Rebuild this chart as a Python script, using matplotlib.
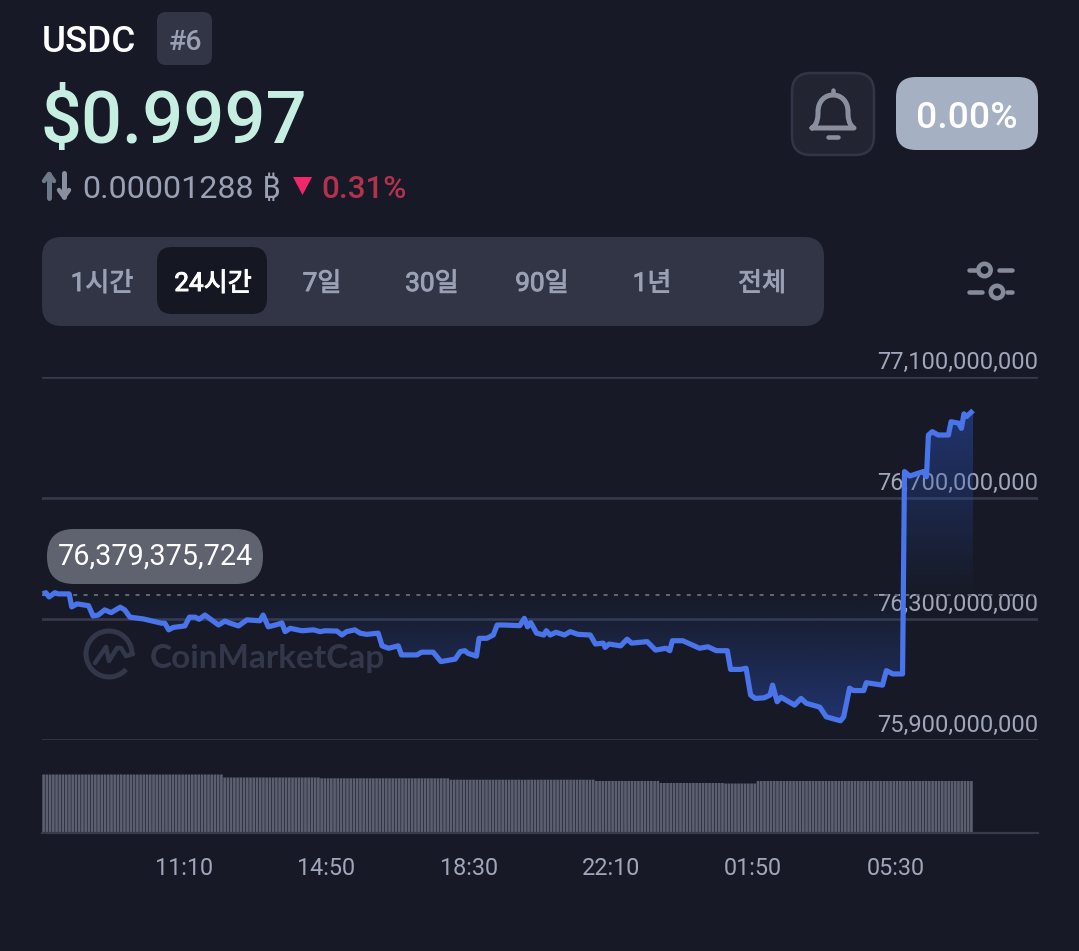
import numpy as np
import matplotlib
matplotlib.use("Agg")
import matplotlib.pyplot as plt
import matplotlib.patheffects as pe
from matplotlib.patches import FancyBboxPatch, Polygon, Circle, Arc, PathPatch
from matplotlib.path import Path
from matplotlib.transforms import ScaledTranslation

# ---------- data ----------
minutes = [1,6,11,20,25,42,46,54,72,79,87,97,107,121,128,136,157,185,190,196,203,221,228,237,243,252,273,283,291,304,
           317,337,342,350,366,371,376,384,402,420,430,438,456,464,471,484,492,502,520,526,536,551,556,580,587,605,617,639,647,654,
           659,672,676,688,698,704,714,739,746,751,756,765,776,780,786,795,808,817,829,848,856,868,871,877,895,905,912,936,949,965,
           971,975,991,1017,1030,1043,1060,1065,1080,1089,1096,1103,1117,1126,1130,1137,1143,1164,1174,1182,1203,1213,1235,1240,1249,1255,1271,1275,1300,1306,
           1316,1331,1334,1342,1363,1368,1371,1377,1386,1402,1406,1418,1422,1426,1430,1440]
market_cap_m = [76382,76386,76372,76386,76382,76382,76339,76349,76343,76309,76312,76329,76320,76338,76329,76305,76299,76285,76285,76263,76271,76276,76305,76305,76298,76312,76279,76292,76285,76276,
                76296,76293,76312,76273,76282,76286,76257,76268,76260,76263,76257,76260,76259,76246,76257,76263,76252,76248,76252,76210,76202,76210,76180,76180,76189,76189,76158,76166,76191,76194,
                76185,76176,76235,76235,76246,76279,76279,76277,76301,76273,76287,76252,76246,76260,76246,76255,76246,76257,76248,76246,76216,76219,76205,76216,76210,76232,76219,76224,76196,76202,
                76194,76227,76227,76202,76207,76194,76194,76132,76132,76136,76047,76036,76038,76047,76080,76025,76040,76014,76036,76020,76007,75975,75962,75975,76070,76062,76062,76088,76080,76128,
                76117,76117,76787,76772,76787,76770,76908,76919,76908,76908,76952,76947,76930,76978,76969,76989]
reference_value = 76379375724
y_ticks = [75900000000, 76300000000, 76700000000, 77100000000]
x_tick_minutes = [220, 440, 660, 880, 1100, 1320]
x_tick_labels = ["11:10", "14:50", "18:30", "22:10", "01:50", "05:30"]
volume_levels = [5.85, 5.55, 5.47, 5.33, 5.2, 5.0, 4.95, 5.2]
volume_counts = [56, 30, 40, 45, 20, 20, 10, 67]
tabs = ["1시간", "24시간", "7일", "30일", "90일", "1년", "전체"]
tab_centers = [102, 213, 322, 432, 542, 652, 762]

# ---------- colours ----------
BG = "#171a26"
PANEL = "#323546"
MUTED = "#9aa1b5"
GRID = "#363a4b"
LINE = "#4a74ea"

W, H = 1079, 951
fig = plt.figure(figsize=(W / 100, H / 100), dpi=100, facecolor=BG)
plt.rcParams["font.family"] = ["Roboto", "Noto Sans", "DejaVu Sans"]
KR = ["Roboto", "Noto Sans CJK KR", "DejaVu Sans"]
PX = 72 / 100


def rect(px0, py0, px1, py1):
    return [px0 / W, 1 - py1 / H, (px1 - px0) / W, (py1 - py0) / H]


ui = fig.add_axes([0, 0, 1, 1], zorder=0)
ui.set_xlim(0, W)
ui.set_ylim(H, 0)
ui.axis("off")


def rbox(x0, y0, x1, y1, r, fc, ec="none", lw=0):
    ui.add_patch(FancyBboxPatch((x0 + r, y0 + r), x1 - x0 - 2 * r, y1 - y0 - 2 * r,
                                boxstyle=f"round,pad={r},rounding_size={r}", fc=fc, ec=ec, lw=lw))


# header
ui.text(42, 52, "USDC", color="white", fontsize=26.5, weight=500, va="baseline")
rbox(157, 12, 212, 65, 9, PANEL)
ui.text(185, 50, "#6", color=MUTED, fontsize=20.5, weight=500, ha="center", va="baseline")
ui.text(41, 143, "$0.9997", color="#c6efe2", fontsize=52, weight=500, va="baseline")
ui.text(82, 198, "0.00001288", color=MUTED, fontsize=23.2, va="baseline")
ui.text(262, 198, "₿", color=MUTED, fontsize=22.9, va="baseline")
ui.text(321, 198, "0.31%", color="#b5324f", fontsize=22.6, weight=500, va="baseline")
ui.add_patch(Polygon([(293, 177), (312, 177), (302.5, 195)], closed=True, fc="#f0286a", ec="none"))

# transfer arrows
for x, y0, y1, d, c in [(49, 198, 174, -1, "#6d7888"), (64, 173, 197, 1, "#8a8fa0")]:
    ui.plot([x, x], [y0, y1], color=c, lw=5 * PX, solid_capstyle="round")
    ui.plot([x - 5, x, x + 5], [y1 - d * 7, y1, y1 - d * 7], color=c, lw=4.5 * PX,
            solid_capstyle="round", solid_joinstyle="round")

# bell button
rbox(792, 73, 874, 155, 19, "#222531", ec=PANEL, lw=2.5 * PX)
ICON = "#8a8f9f"
bell = Path([(812, 128), (818, 124), (818, 116), (818, 112), (818, 101), (825, 95), (833, 95),
             (841, 95), (848, 101), (848, 112), (848, 116), (848, 124), (854, 128), (812, 128)],
            [Path.MOVETO, Path.CURVE4, Path.CURVE4, Path.CURVE4, Path.CURVE4, Path.CURVE4, Path.CURVE4,
             Path.CURVE4, Path.CURVE4, Path.CURVE4, Path.CURVE4, Path.CURVE4, Path.CURVE4, Path.LINETO])
ui.add_patch(PathPatch(bell, fc="none", ec=ICON, lw=5 * PX, joinstyle="round", capstyle="round"))
ui.plot([833, 833], [90, 94], color=ICON, lw=4.5 * PX, solid_capstyle="round")
ui.plot([828, 838], [137, 137], color=ICON, lw=4.5 * PX, solid_capstyle="round")

# percentage pill
rbox(896, 77, 1038, 150, 20, "#a6b0c3")
ui.text(967, 128, "0.00%", color="white", fontsize=26.8, weight=500, ha="center", va="baseline")

# tabs
rbox(42, 237, 824, 326, 20, PANEL)
rbox(157, 247, 267, 314, 15, "#151823")
for name, cx in zip(tabs, tab_centers):
    active = name == "24시간"
    t = ui.text(cx, 284, name, color="white" if active else MUTED, fontsize=18.8, family=KR,
                weight="normal", ha="center", va="center")
    t.set_path_effects([pe.withStroke(linewidth=0.7, foreground="white" if active else MUTED)])

# settings icon
ICON2 = "#868b9c"
for segs, cx, y in [([(969, 976), (999, 1012)], 984.5, 270), ([(969, 982), (1007, 1012)], 997, 292)]:
    for a, b in segs:
        ui.plot([a, b], [y, y], color=ICON2, lw=4.5 * PX, solid_capstyle="round")
    ui.add_patch(Circle((cx, y), 6.2, fc="none", ec=ICON2, lw=4.5 * PX))

# watermark
WM = "#33374a"
ui.add_patch(Arc((109, 654), 46, 46, theta1=42, theta2=358, ec=WM, lw=5 * PX))
ui.plot([95, 106, 109, 117, 121, 126, 133], [663, 647, 661, 648, 648, 656, 654], color=WM, lw=4.5 * PX,
        solid_joinstyle="round", solid_capstyle="round")
ui.text(150, 668, "CoinMarketCap", color=WM, fontsize=24, weight="bold", family="Lato", va="baseline")

# ---------- price axes ----------
ax = fig.add_axes(rect(42, 377, 1038, 739.5), zorder=1)
ax.patch.set_alpha(0)
x = np.array(minutes)
y = np.array(market_cap_m) * 1e6
XMAX = 1540.5

poly = ax.fill_between(x, y, reference_value, facecolor="none", linewidth=0)
ys = np.linspace(75.9e9, 77.1e9, 400)
d = ys - reference_value
alpha = np.where(d > 0, d / 5.6e8 * 0.45, -d / 3.5e8 * 0.4)
rgba = np.zeros((400, 2, 4))
rgba[..., :3] = matplotlib.colors.to_rgb("#2b50bb")
rgba[..., 3] = np.clip(alpha, 0, 0.5)[:, None]
im = ax.imshow(rgba, origin="lower", extent=[0, XMAX, 75.9e9, 77.1e9], aspect="auto", zorder=1.5, interpolation="bilinear")
im.set_clip_path(poly.get_paths()[0], ax.transData)

ax.axhline(reference_value, color="#5f6372", lw=2 * PX, dashes=(2, 3.2), zorder=1.6)
ax.plot(x, y, color=LINE, lw=5.2 * PX, solid_joinstyle="round", solid_capstyle="butt", zorder=3)

ax.set_xlim(0, XMAX)
ax.set_ylim(75.9e9, 77.1e9)
for s in ax.spines.values():
    s.set_visible(False)
ax.set_axisbelow(True)
ax.set_xticks([])
ax.set_yticks(y_ticks)
ax.set_yticklabels([f"{v:,}" for v in y_ticks])
ax.yaxis.tick_right()
ax.tick_params(axis="y", length=0, pad=0, labelsize=17, labelcolor="#a1a7bb")
ax.grid(axis="y", color=GRID, lw=2.6 * PX)
shift = ScaledTranslation(0, 8 * PX / 72, fig.dpi_scale_trans)
for lab in ax.get_yticklabels():
    lab.set_ha("right")
    lab.set_va("baseline")
    lab.set_transform(lab.get_transform() + shift)

# value pill drawn above the chart
ax2 = fig.add_axes([0, 0, 1, 1], zorder=2)
ax2.set_xlim(0, W)
ax2.set_ylim(H, 0)
ax2.axis("off")
ax2.add_patch(FancyBboxPatch((47 + 27, 529 + 27), 216 - 54, 1, boxstyle="round,pad=27,rounding_size=27",
                             fc="#5f626f", ec="none"))
ax2.text(155.5, 565, f"{reference_value:,}", color="white", fontsize=20.7, ha="center", va="baseline")

# ---------- volume axes ----------
vax = fig.add_axes(rect(42, 773, 1038, 833), zorder=1)
vax.patch.set_alpha(0)
volumes = np.repeat(volume_levels, volume_counts)
bar_x = np.arange(len(volumes)) * 5 + 2.5
bars = vax.bar(bar_x, volumes, width=4.1, color="#5c5f70", linewidth=0)
for b in bars:
    b.set_snap(False)
vax.set_xlim(0, XMAX)
vax.set_ylim(0, 6)
vax.set_yticks([])
for n in ["top", "left", "right"]:
    vax.spines[n].set_visible(False)
vax.spines["bottom"].set_color(GRID)
vax.spines["bottom"].set_linewidth(2.2 * PX)
vax.set_xticks(x_tick_minutes)
vax.set_xticklabels(x_tick_labels)
vax.tick_params(axis="x", length=0, pad=17, labelsize=16.8, labelcolor="#a1a7bb")

fig.savefig("out.png", dpi=100, facecolor=BG)
